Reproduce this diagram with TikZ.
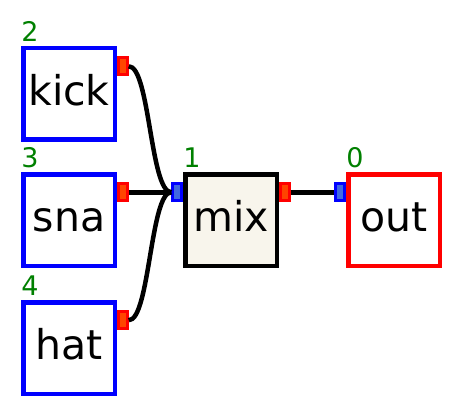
\documentclass[tikz,border=0pt]{standalone}
\usepackage{fontspec}
\setmainfont{DejaVu Sans}
\usetikzlibrary{positioning}

\definecolor{portred}{RGB}{255,69,0}
\definecolor{portblue}{RGB}{65,105,225}
\definecolor{numgreen}{RGB}{0,128,0}
\definecolor{mixfill}{RGB}{248,245,236}

\begin{document}
\begin{tikzpicture}[
        x=1pt, y=-1pt,
        node distance=34.5pt and 70.5pt,
        every node/.style={inner sep=0pt, outer sep=0pt},
        module/.style={draw=blue, line width=4.5pt, fill=white, minimum size=91.5pt,
            text height=23pt, text depth=0pt, font=\fontsize{41}{48}\selectfont},
        outport/.style={draw=red, fill=portred, line width=3pt, minimum width=9pt,
            minimum height=17pt, outer sep=1.5pt},
        inport/.style={outport, draw=blue, fill=portblue},
        num/.style={anchor=base west, text=numgreen, font=\fontsize{27}{32}\selectfont},
        wire/.style={line width=4.5pt}
    ]
    \useasboundingbox (0,0) rectangle (463,417);

    % Nodes
    \node[module] (kick) at (69,94) {kick};
    \node[module] (sna) [below=of kick] {sna};
    \node[module] (hat) [below=36.5pt of sna] {hat};
    \node[module, draw=black, fill=mixfill] (mix) [right=of sna] {mix};
    \node[module, draw=red] (out) [right=71.5pt of mix] {out};

    \node[num] (kicknum) at ([xshift=-2pt,yshift=7pt]kick.north west) {2};
    \node[num] (snanum) at ([xshift=-2pt,yshift=7pt]sna.north west) {3};
    \node[num] (hatnum) at ([xshift=-2pt,yshift=7pt]hat.north west) {4};
    \node[num] (mixnum) at ([xshift=-2pt,yshift=7pt]mix.north west) {1};
    \node[num] (outnum) at ([xshift=-2pt,yshift=7pt]out.north west) {0};

    % Ports
    \node[outport] (kickout) at ([xshift=8pt,yshift=-18pt]kick.north east) {};
    \node[outport] (snaout) at ([xshift=8pt,yshift=-18pt]sna.north east) {};
    \node[outport] (hatout) at ([xshift=8pt,yshift=-18pt]hat.north east) {};
    \node[inport] (mixin) at ([xshift=-8pt,yshift=-18pt]mix.north west) {};
    \node[outport] (mixout) at ([xshift=8pt,yshift=-18pt]mix.north east) {};
    \node[inport] (outin) at ([xshift=-8pt,yshift=-18pt]out.north west) {};

    % Edges
    \draw[wire] (kickout.east) .. controls +(21pt,0) and +(-21pt,0) .. (mixin.west);
    \draw[wire] (snaout.east) -- (mixin.west);
    \draw[wire] (hatout.east) .. controls +(21pt,0) and +(-21pt,0) .. (mixin.west);
    \draw[wire] (mixout.east) -- (outin.west);

\end{tikzpicture}
\end{document}
